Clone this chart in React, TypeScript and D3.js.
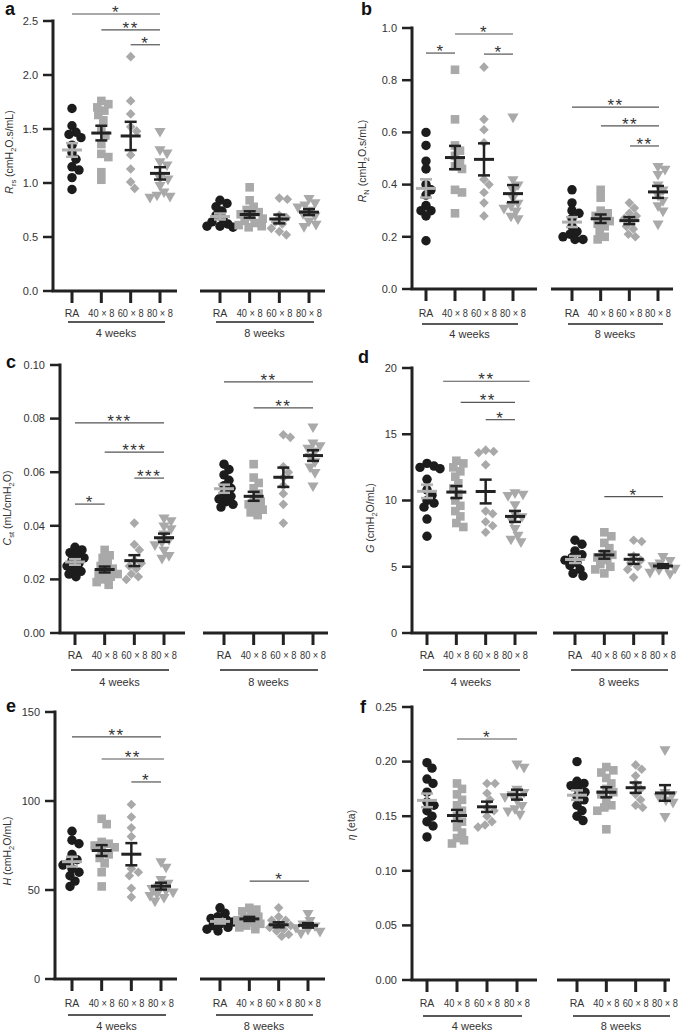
import React from 'react';
import * as d3 from 'd3';

const CATEGORIES = ['RA', '40 × 8', '60 × 8', '80 × 8'];
const PERIODS = ['4 weeks', '8 weeks'];

// ---- Panel a: Rrs ----
const RRS_4W = [
  [1.69, 1.53, 1.47, 1.45, 1.42, 1.35, 1.28, 1.22, 1.15, 1.12, 1.05, 0.94],
  [1.76, 1.73, 1.70, 1.67, 1.63, 1.58, 1.50, 1.44, 1.36, 1.27, 1.24, 1.10, 1.03],
  [2.17, 1.76, 1.64, 1.52, 1.48, 1.26, 1.13, 1.01, 0.95],
  [1.48, 1.31, 1.28, 1.20, 1.17, 1.05, 1.04, 0.98, 0.92, 0.89, 0.88, 0.87],
];
const RRS_8W = [
  [0.84, 0.81, 0.78, 0.74, 0.70, 0.67, 0.64, 0.62, 0.60, 0.60, 0.59],
  [0.96, 0.84, 0.78, 0.75, 0.73, 0.71, 0.69, 0.67, 0.65, 0.63, 0.61, 0.60, 0.59],
  [0.86, 0.85, 0.70, 0.68, 0.64, 0.62, 0.58, 0.55, 0.52],
  [0.86, 0.82, 0.80, 0.78, 0.75, 0.72, 0.70, 0.65, 0.62, 0.60],
];
const RRS_SIG = [
  { period: 0, from: 0, to: 3, level: 2.565, label: '*' },
  { period: 0, from: 1, to: 3, level: 2.417, label: '**' },
  { period: 0, from: 2, to: 3, level: 2.28, label: '*' },
];
const RRS_TICKS = [0, 0.5, 1.0, 1.5, 2.0, 2.5];

// ---- Panel b: RN ----
const RN_4W = [
  [0.60, 0.55, 0.49, 0.46, 0.40, 0.38, 0.36, 0.32, 0.30, 0.30, 0.28, 0.185],
  [0.84, 0.65, 0.55, 0.53, 0.51, 0.49, 0.47, 0.46, 0.38, 0.37, 0.29],
  [0.85, 0.65, 0.61, 0.56, 0.42, 0.40, 0.37, 0.33, 0.28],
  [0.66, 0.42, 0.40, 0.38, 0.35, 0.33, 0.32, 0.31, 0.30, 0.28, 0.27],
];
const RN_8W = [
  [0.38, 0.33, 0.30, 0.29, 0.27, 0.24, 0.22, 0.21, 0.20, 0.19, 0.19],
  [0.38, 0.35, 0.30, 0.29, 0.28, 0.27, 0.26, 0.25, 0.24, 0.22, 0.20, 0.19],
  [0.33, 0.31, 0.29, 0.28, 0.27, 0.26, 0.24, 0.23, 0.21, 0.20],
  [0.47, 0.46, 0.44, 0.40, 0.38, 0.36, 0.34, 0.32, 0.30, 0.25],
];
const RN_SIG = [
  { period: 0, from: 0, to: 1, level: 0.904, label: '*' },
  { period: 0, from: 1, to: 3, level: 0.977, label: '*' },
  { period: 0, from: 2, to: 3, level: 0.9, label: '*' },
  { period: 1, from: 0, to: 3, level: 0.697, label: '**' },
  { period: 1, from: 1, to: 3, level: 0.625, label: '**' },
  { period: 1, from: 2, to: 3, level: 0.548, label: '**' },
];
const RN_TICKS = [0, 0.2, 0.4, 0.6, 0.8, 1.0];

// ---- Panel c: Cst ----
const CST_4W = [
  [0.032, 0.031, 0.030, 0.029, 0.028, 0.027, 0.026, 0.025, 0.024, 0.023, 0.022, 0.021],
  [0.031, 0.029, 0.028, 0.026, 0.025, 0.024, 0.023, 0.022, 0.022, 0.021, 0.020, 0.019, 0.018],
  [0.041, 0.033, 0.031, 0.027, 0.026, 0.025, 0.024, 0.022, 0.021, 0.020],
  [0.043, 0.042, 0.040, 0.039, 0.037, 0.035, 0.034, 0.033, 0.031, 0.029, 0.028],
];
const CST_8W = [
  [0.063, 0.061, 0.059, 0.057, 0.055, 0.054, 0.052, 0.051, 0.050, 0.049, 0.048, 0.047],
  [0.063, 0.058, 0.056, 0.054, 0.052, 0.050, 0.049, 0.048, 0.047, 0.046, 0.045, 0.044],
  [0.074, 0.073, 0.062, 0.060, 0.058, 0.055, 0.052, 0.048, 0.041],
  [0.077, 0.071, 0.070, 0.069, 0.068, 0.066, 0.064, 0.062, 0.060, 0.055],
];
const CST_SIG = [
  { period: 0, from: 0, to: 1, level: 0.0481, label: '*' },
  { period: 0, from: 0, to: 3, level: 0.0784, label: '***' },
  { period: 0, from: 1, to: 3, level: 0.0675, label: '***' },
  { period: 0, from: 2, to: 3, level: 0.0578, label: '***' },
  { period: 1, from: 0, to: 3, level: 0.0937, label: '**' },
  { period: 1, from: 1, to: 3, level: 0.084, label: '**' },
];
const CST_TICKS = [0, 0.02, 0.04, 0.06, 0.08, 0.1];

// ---- Panel d: G ----
const G_4W = [
  [12.8, 12.6, 12.5, 12.4, 11.6, 10.8, 10.4, 10.0, 9.8, 9.5, 8.6, 7.3],
  [13.0, 12.8, 12.5, 12.2, 11.8, 11.3, 10.9, 10.5, 10.0, 9.6, 9.2, 8.8, 8.3, 8.0],
  [13.8, 13.7, 13.6, 12.7, 9.2, 9.0, 8.4, 8.1, 7.6],
  [10.6, 10.5, 10.4, 9.7, 9.0, 8.8, 8.5, 7.9, 7.4, 7.1, 6.9],
];
const G_8W = [
  [7.0, 6.7, 6.2, 5.9, 5.7, 5.5, 5.3, 5.1, 4.8, 4.5, 4.3],
  [7.6, 7.3, 6.8, 6.4, 6.0, 5.9, 5.7, 5.5, 5.2, 5.0, 4.8, 4.5],
  [7.0, 6.9, 5.8, 5.5, 5.3, 5.0, 4.8, 4.2],
  [5.8, 5.5, 5.3, 5.1, 5.0, 4.9, 4.8, 4.6, 4.5],
];
const G_SIG = [
  { period: 0, from: 0.55, to: 3.5, level: 19.0, label: '**' },
  { period: 0, from: 1.15, to: 3.0, level: 17.4, label: '**' },
  { period: 0, from: 2, to: 3, level: 16.1, label: '*' },
  { period: 1, from: 1, to: 3, level: 10.3, label: '*' },
];
const G_TICKS = [0, 5, 10, 15, 20];

// ---- Panel e: H ----
const H_4W = [
  [83, 78, 76, 70, 67, 66, 64, 62, 60, 58, 55, 52],
  [90, 87, 77, 76, 75, 74, 72, 70, 68, 65, 60, 52],
  [98, 91, 85, 80, 62, 60, 58, 51, 46],
  [66, 63, 56, 54, 52, 51, 50, 49, 48, 47, 46, 44],
];
const H_8W = [
  [40, 37, 35, 34, 33, 32, 31, 30, 29, 28, 27],
  [40, 39, 38, 36, 35, 34, 33, 32, 31, 30, 29, 28],
  [40, 35, 33, 33, 31, 30, 29, 28, 27, 25, 24],
  [37, 33, 31, 30, 29, 28, 27, 26],
];
const H_SIG = [
  { period: 0, from: 0, to: 3, level: 136, label: '**' },
  { period: 0, from: 1, to: 3.1, level: 123.6, label: '**' },
  { period: 0, from: 2, to: 3, level: 110.7, label: '*' },
  { period: 1, from: 1, to: 3, level: 55, label: '*' },
];
const H_TICKS = [0, 50, 100, 150];

// ---- Panel f: eta ----
const ETA_4W = [
  [0.199, 0.194, 0.184, 0.180, 0.172, 0.163, 0.160, 0.155, 0.150, 0.145, 0.141, 0.131],
  [0.180, 0.175, 0.170, 0.165, 0.160, 0.155, 0.150, 0.145, 0.140, 0.135, 0.130, 0.128, 0.125],
  [0.180, 0.180, 0.171, 0.165, 0.158, 0.155, 0.150, 0.145, 0.142, 0.140],
  [0.198, 0.195, 0.175, 0.172, 0.170, 0.168, 0.165, 0.160, 0.157, 0.155, 0.152],
];
const ETA_8W = [
  [0.200, 0.182, 0.180, 0.178, 0.175, 0.172, 0.168, 0.165, 0.160, 0.155, 0.150, 0.146],
  [0.195, 0.192, 0.190, 0.185, 0.180, 0.175, 0.172, 0.170, 0.165, 0.160, 0.158, 0.155, 0.138],
  [0.197, 0.193, 0.187, 0.180, 0.175, 0.170, 0.165, 0.160, 0.158],
  [0.211, 0.172, 0.170, 0.168, 0.165, 0.163, 0.150],
];
const ETA_SIG = [{ period: 0, from: 1, to: 3, level: 0.2207, label: '*' }];
const ETA_TICKS = [0, 0.05, 0.1, 0.15, 0.2, 0.25];

type Part = { t: string; i?: boolean; sub?: boolean };

const FONT = '"Liberation Sans", Arial, Helvetica, sans-serif';
const BLACK = '#1c1c1c';
const GREY = '#a9a9a9';
const TEXT = '#333';

const PANELS = [
  {
    letter: 'a', letterPos: [5, 15], data: [RRS_4W, RRS_8W], sig: RRS_SIG, ticks: RRS_TICKS, fmt: '.1f',
    label: [{ t: 'R', i: true }, { t: 'rs', sub: true }, { t: ' (cmH' }, { t: '2', sub: true }, { t: 'O.s/mL)' }] as Part[],
    axisX: 53, yTop: 21, yBot: 291, left: [72, 160], leftEnd: 177, right: [220, 309], rightSeg: [200, 325],
    labelPos: [13, 152], catY: 317, lineY: 322, textY: 337,
  },
  {
    letter: 'b', letterPos: [361, 15], data: [RN_4W, RN_8W], sig: RN_SIG, ticks: RN_TICKS, fmt: '.1f',
    label: [{ t: 'R', i: true }, { t: 'N', sub: true }, { t: ' (cmH' }, { t: '2', sub: true }, { t: 'O.s/mL)' }] as Part[],
    axisX: 412, yTop: 28, yBot: 289, left: [426, 513], leftEnd: 537, right: [572, 658], rightSeg: [551, 673],
    labelPos: [366, 161], catY: 317, lineY: 324, textY: 338,
  },
  {
    letter: 'c', letterPos: [6, 368], data: [CST_4W, CST_8W], sig: CST_SIG, ticks: CST_TICKS, fmt: '.2f',
    label: [{ t: 'C', i: true }, { t: 'st', sub: true }, { t: ' (mL/cmH' }, { t: '2', sub: true }, { t: 'O)' }] as Part[],
    axisX: 60, yTop: 365, yBot: 633, left: [75, 164], leftEnd: 185, right: [224, 313], rightSeg: [203, 328],
    labelPos: [11, 508], catY: 659, lineY: 670, textY: 686,
  },
  {
    letter: 'd', letterPos: [358, 363], data: [G_4W, G_8W], sig: G_SIG, ticks: G_TICKS, fmt: 'd',
    label: [{ t: 'G', i: true }, { t: ' (cmH' }, { t: '2', sub: true }, { t: 'O/mL)' }] as Part[],
    axisX: 412, yTop: 368, yBot: 633, left: [427, 515], leftEnd: 537, right: [575, 663], rightSeg: [553, 668],
    labelPos: [374, 518], catY: 659, lineY: 670, textY: 686,
  },
  {
    letter: 'e', letterPos: [6, 712], data: [H_4W, H_8W], sig: H_SIG, ticks: H_TICKS, fmt: 'd',
    label: [{ t: 'H', i: true }, { t: ' (cmH' }, { t: '2', sub: true }, { t: 'O/mL)' }] as Part[],
    axisX: 55, yTop: 712, yBot: 979, left: [72, 161], leftEnd: 177, right: [220, 308], rightSeg: [200, 325],
    labelPos: [11, 851], catY: 1007, lineY: 1015, textY: 1030,
  },
  {
    letter: 'f', letterPos: [360, 713], data: [ETA_4W, ETA_8W], sig: ETA_SIG, ticks: ETA_TICKS, fmt: '.2f',
    label: [{ t: 'η', i: true }, { t: ' (eta)' }] as Part[],
    axisX: 412, yTop: 707, yBot: 980, left: [427, 517], leftEnd: 537, right: [577, 665], rightSeg: [557, 670],
    labelPos: [355, 825], catY: 1007, lineY: 1016, textY: 1030,
  },
];

const SHAPES = [
  { type: d3.symbolCircle, size: 70, rotate: 0, fill: BLACK },
  { type: d3.symbolSquare, size: 74, rotate: 0, fill: GREY },
  { type: d3.symbolSquare, size: 46, rotate: 45, fill: GREY },
  { type: d3.symbolTriangle, size: 54, rotate: 180, fill: GREY },
];

function beeswarm(ys: number[], minDist: number, step: number, maxOff: number): number[] {
  const order = ys.map((_, i) => i).sort((a, b) => ys[a] - ys[b]);
  const placed: { x: number; y: number }[] = [];
  const out: number[] = new Array(ys.length).fill(0);
  const nCand = Math.floor(maxOff / step) * 2 + 1;
  for (const i of order) {
    const py = ys[i];
    let best = 0;
    let bestScore = Infinity;
    for (let k = 0; k < nCand; k++) {
      const off = k === 0 ? 0 : (k % 2 === 1 ? 1 : -1) * Math.ceil(k / 2) * step;
      let score = 0;
      for (const p of placed) {
        const d = Math.hypot(p.x - off, p.y - py);
        if (d < minDist) score += minDist - d;
      }
      if (score === 0) { best = off; bestScore = 0; break; }
      if (score < bestScore) { bestScore = score; best = off; }
    }
    placed.push({ x: best, y: py });
    out[i] = best;
  }
  return out;
}

function Panel({ p }: { p: (typeof PANELS)[number] }) {
  const y = d3.scaleLinear().domain([0, p.ticks[p.ticks.length - 1]]).range([p.yBot, p.yTop]);
  const xs = [
    d3.scalePoint<string>().domain(CATEGORIES).range(p.left as [number, number]),
    d3.scalePoint<string>().domain(CATEGORIES).range(p.right as [number, number]),
  ];
  const step = (p.left[1] - p.left[0]) / 3;
  const fmt = d3.format(p.fmt);
  const catAt = (period: number, idx: number) => xs[period](CATEGORIES[0])! + idx * step;

  const segs = [
    [p.axisX, p.leftEnd],
    p.rightSeg,
  ];

  return (
    <g>
      <text x={p.letterPos[0]} y={p.letterPos[1]} fontSize={18} fontWeight="bold" fill="#111" fontFamily={FONT}>{p.letter}</text>
      {/* y label */}
      <text transform={`translate(${p.labelPos[0]},${p.labelPos[1]}) rotate(-90)`} textAnchor="middle" dy="0.35em" fontSize={10.5} fill={TEXT} fontFamily={FONT}>
        {p.label.map((part, i) => {
          const prevSub = i > 0 && p.label[i - 1].sub;
          const dy = part.sub ? 2.5 : prevSub ? -2.5 : 0;
          return (
            <tspan key={i} dy={dy} fontStyle={part.i ? 'italic' : 'normal'} fontSize={part.sub ? 7.5 : 10.5}>{part.t}</tspan>
          );
        })}
      </text>
      {/* y axis */}
      <line x1={p.axisX} x2={p.axisX} y1={p.yTop - 1.5} y2={p.yBot} stroke="#222" strokeWidth={3} />
      {p.ticks.map((t) => (
        <g key={t}>
          <line x1={p.axisX - 10} x2={p.axisX} y1={y(t)} y2={y(t)} stroke="#222" strokeWidth={2.5} />
          <text x={p.axisX - 15} y={y(t)} dy="0.35em" textAnchor="end" fontSize={11} fill={TEXT} fontFamily={FONT}>{fmt(t)}</text>
        </g>
      ))}
      {/* x axes */}
      {segs.map((s, k) => (
        <line key={k} x1={s[0] - (k === 0 ? 1.5 : 0)} x2={s[1]} y1={p.yBot} y2={p.yBot} stroke="#222" strokeWidth={3} />
      ))}
      {[0, 1].map((period) => (
        <g key={period}>
          {CATEGORIES.map((c, ci) => (
            <g key={c}>
              <line x1={xs[period](c)} x2={xs[period](c)} y1={p.yBot} y2={p.yBot + 12} stroke="#222" strokeWidth={3} />
              {ci === 0 ? (
                <text x={xs[period](c)} y={p.catY} textAnchor="middle" fontSize={10.5} fill={TEXT} fontFamily={FONT}>{c}</text>
              ) : (
                <text x={xs[period](c)} y={p.catY} textAnchor="middle" fontSize={10.5} fill={TEXT} fontFamily={FONT} textLength={26} lengthAdjust="spacingAndGlyphs">{c}</text>
              )}
            </g>
          ))}
          <line x1={xs[period](CATEGORIES[0])! - 4} x2={xs[period](CATEGORIES[3])! + 5} y1={p.lineY} y2={p.lineY} stroke="#222" strokeWidth={1.5} />
          <text x={(xs[period](CATEGORIES[0])! + xs[period](CATEGORIES[3])!) / 2} y={p.textY} textAnchor="middle" fontSize={11} fill={TEXT} fontFamily={FONT}>{PERIODS[period]}</text>
        </g>
      ))}
      {/* data */}
      {p.data.map((groups, period) =>
        groups.map((vals, gi) => {
          const cx = xs[period](CATEGORIES[gi])!;
          const ys = vals.map((v) => y(v));
          const offs = beeswarm(ys, 7.2, 1, 13);
          const shape = SHAPES[gi];
          const path = d3.symbol().type(shape.type).size(shape.size)()!;
          const mean = d3.mean(vals)!;
          const sem = d3.deviation(vals)! / Math.sqrt(vals.length);
          const barColor = gi === 0 ? '#b0b0b0' : '#222';
          return (
            <g key={`${period}-${gi}`}>
              {vals.map((v, i) => (
                <path key={i} d={path} fill={shape.fill} transform={`translate(${cx + offs[i]},${ys[i]}) rotate(${shape.rotate})`} />
              ))}
              <line x1={cx - 10} x2={cx + 10} y1={y(mean)} y2={y(mean)} stroke={barColor} strokeWidth={3} />
              <line x1={cx} x2={cx} y1={y(mean - sem)} y2={y(mean + sem)} stroke={barColor} strokeWidth={2.5} />
              <line x1={cx - 6} x2={cx + 6} y1={y(mean - sem)} y2={y(mean - sem)} stroke={barColor} strokeWidth={2.5} />
              <line x1={cx - 6} x2={cx + 6} y1={y(mean + sem)} y2={y(mean + sem)} stroke={barColor} strokeWidth={2.5} />
            </g>
          );
        })
      )}
      {/* significance */}
      {p.sig.map((s, i) => {
        const x1 = catAt(s.period, s.from);
        const x2 = catAt(s.period, s.to);
        const ly = y(s.level);
        return (
          <g key={i}>
            <line x1={x1} x2={x2} y1={ly} y2={ly} stroke="#555" strokeWidth={1.2} />
            <text x={(x1 + x2) / 2} y={ly + 4} textAnchor="middle" fontSize={17} letterSpacing={1.5} fill="#333" fontFamily={FONT}>{s.label}</text>
          </g>
        );
      })}
    </g>
  );
}

export default function App() {
  return (
    <svg width={685} height={1031} style={{ position: 'absolute', left: 0, top: 0, background: '#fff' }} fontFamily={FONT}>
      <rect width={685} height={1031} fill="#fff" />
      {PANELS.map((p) => (
        <Panel key={p.letter} p={p} />
      ))}
    </svg>
  );
}
